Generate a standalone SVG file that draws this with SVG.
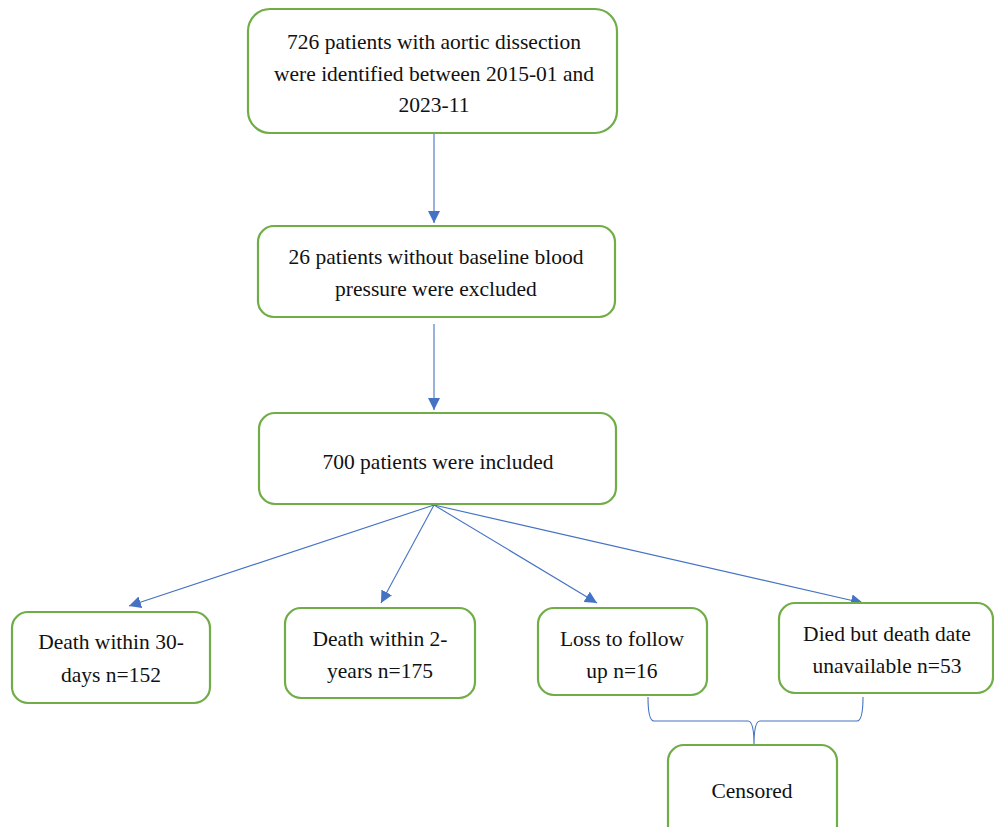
<svg xmlns="http://www.w3.org/2000/svg" width="994" height="827" viewBox="0 0 994 827">
<style>
.box{fill:#fff;stroke:#70AD47;stroke-width:2.2}
.t{font-family:"Liberation Serif","Times New Roman",serif;font-size:21.5px;fill:#111;text-anchor:middle}
.c{stroke:#4472C4;stroke-width:1.1;fill:none}
</style>
<defs>
<marker id="ah" viewBox="0 0 10 10" refX="10" refY="5" markerWidth="12" markerHeight="12" markerUnits="userSpaceOnUse" orient="auto">
<path d="M0,0 L10,5 L0,10 z" fill="#4472C4"/>
</marker>
</defs>
<rect width="994" height="827" fill="#fff"/>
<g id="connectors">
<line class="c" x1="434" y1="134" x2="434" y2="223" marker-end="url(#ah)"/>
<line class="c" x1="434" y1="324" x2="434" y2="410" marker-end="url(#ah)"/>
<line class="c" x1="434" y1="505" x2="129" y2="606" marker-end="url(#ah)"/>
<line class="c" x1="434" y1="505" x2="381" y2="603" marker-end="url(#ah)"/>
<line class="c" x1="434" y1="505" x2="597" y2="603" marker-end="url(#ah)"/>
<line class="c" x1="434" y1="505" x2="863" y2="603" marker-end="url(#ah)"/>
<path class="c" d="M648,697 Q648,721 654,721 L748,721 Q754,721 754,745 Q754,721 760,721 L857,721 Q863,721 863,697"/>
</g>
<g id="n1"><rect class="box" x="248" y="9" width="369" height="124" rx="22"/>
<text class="t" x="434" y="49">726 patients with aortic dissection</text>
<text class="t" x="434" y="81">were identified between 2015-01 and</text>
<text class="t" x="434" y="112">2023-11</text></g>
<g id="n2"><rect class="box" x="258" y="226" width="357" height="91" rx="16"/>
<text class="t" x="436" y="264">26 patients without baseline blood</text>
<text class="t" x="436" y="296">pressure were excluded</text></g>
<g id="n3"><rect class="box" x="259" y="413" width="357" height="91" rx="16"/>
<text class="t" x="438" y="469">700 patients were included</text></g>
<g id="n4"><rect class="box" x="12" y="612" width="198" height="91" rx="16"/>
<text class="t" x="111" y="649">Death within 30-</text>
<text class="t" x="111" y="682">days n=152</text></g>
<g id="n5"><rect class="box" x="285" y="608" width="190" height="90" rx="16"/>
<text class="t" x="380" y="646">Death within 2-</text>
<text class="t" x="380" y="678">years n=175</text></g>
<g id="n6"><rect class="box" x="538" y="608" width="169" height="87" rx="16"/>
<text class="t" x="622" y="646">Loss to follow</text>
<text class="t" x="622" y="678">up n=16</text></g>
<g id="n7"><rect class="box" x="779" y="603" width="214" height="90" rx="16"/>
<text class="t" x="887" y="641">Died but death date</text>
<text class="t" x="887" y="673">unavailable n=53</text></g>
<g id="n8"><rect class="box" x="668" y="745" width="169" height="100" rx="16"/>
<text class="t" x="752" y="798">Censored</text></g>
</svg>
